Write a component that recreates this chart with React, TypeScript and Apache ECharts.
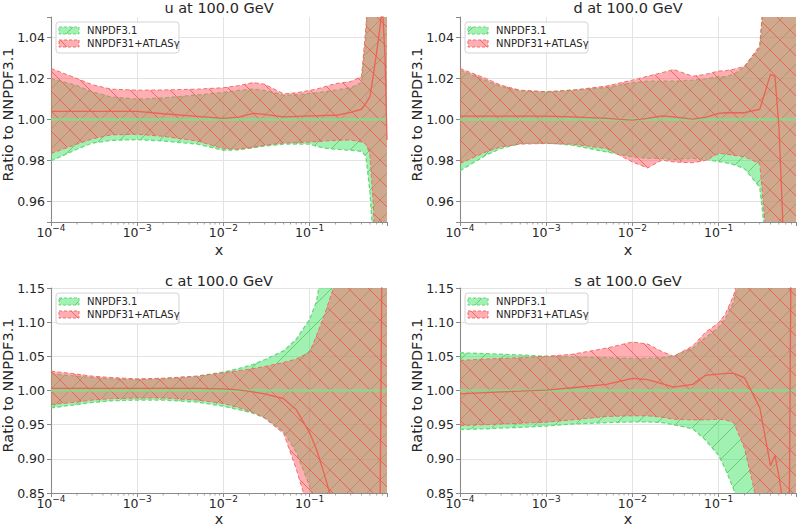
import React, { useEffect, useRef } from 'react';
import * as echarts from 'echarts';

// ---------- data ----------
const X = [1e-4, 2e-4, 3e-4, 5e-4, 1e-3, 2e-3, 5e-3, 1e-2, 1.5e-2, 2.2e-2, 3e-2, 5e-2, 0.07, 0.1, 0.12, 0.15, 0.2, 0.3, 0.4, 0.45, 0.5, 0.55, 0.6, 0.65, 0.7, 0.75, 0.79];

// u
const uGreenLo = [0.9798, 0.9855, 0.9885, 0.9898, 0.9902, 0.9895, 0.988, 0.985, 0.9852, 0.9862, 0.987, 0.988, 0.988, 0.988, 0.987, 0.986, 0.9855, 0.985, 0.9845, 0.982, 0.965, 0.94, 0.9, 0.9, 0.9, 0.9, 0.9];
const uGreenHi = [1.020, 1.0165, 1.0135, 1.011, 1.0099, 1.0105, 1.012, 1.0132, 1.0142, 1.0148, 1.0142, 1.0118, 1.012, 1.0127, 1.013, 1.0135, 1.0143, 1.0155, 1.018, 1.04, 1.08, 1.1, 1.1, 1.1, 1.1, 1.1, 1.1];
const uRedLo = [0.9834, 0.988, 0.9905, 0.9925, 0.9928, 0.9918, 0.9895, 0.9858, 0.9855, 0.9865, 0.9875, 0.9885, 0.9887, 0.989, 0.9892, 0.9895, 0.9898, 0.99, 0.989, 0.988, 0.983, 0.958, 0.9, 0.9, 0.9, 0.9, 0.9];
const uRedHi = [1.0249, 1.020, 1.017, 1.0148, 1.0143, 1.0144, 1.0148, 1.0155, 1.0165, 1.018, 1.0172, 1.0125, 1.013, 1.0142, 1.0148, 1.016, 1.0175, 1.0185, 1.021, 1.045, 1.08, 1.1, 1.1, 1.1, 1.1, 1.1, 1.1];
const uRedMid = [1.004, 1.004, 1.004, 1.004, 1.004, 1.0028, 1.0015, 1.0005, 1.0012, 1.003, 1.0025, 1.0013, 1.0015, 1.0018, 1.0018, 1.002, 1.002, 1.0035, 1.005, 1.008, 1.011, 1.022, 1.033, 1.044, 1.055, 1.03, 0.99];

// d
const dGreenLo = [0.975, 0.9826, 0.9859, 0.9883, 0.9886, 0.9875, 0.9842, 0.9818, 0.981, 0.981, 0.9805, 0.981, 0.9805, 0.9795, 0.979, 0.978, 0.976, 0.967, 0.92, 0.9, 0.9, 0.9, 0.9, 0.9, 0.9, 0.9, 0.9];
const dGreenHi = [1.024, 1.019, 1.016, 1.014, 1.0135, 1.0143, 1.0156, 1.0179, 1.0187, 1.0187, 1.0187, 1.0192, 1.0198, 1.0208, 1.021, 1.022, 1.0257, 1.035, 1.1, 1.1, 1.1, 1.1, 1.1, 1.1, 1.1, 1.1, 1.1];
const dRedLo = [0.9785, 0.9842, 0.9867, 0.988, 0.9883, 0.988, 0.9859, 0.9793, 0.9764, 0.9802, 0.9793, 0.9789, 0.98, 0.9834, 0.9832, 0.9825, 0.9818, 0.9785, 0.92, 0.9, 0.9, 0.9, 0.9, 0.9, 0.9, 0.9, 0.9];
const dRedHi = [1.0249, 1.020, 1.0167, 1.0143, 1.0135, 1.0143, 1.0163, 1.0192, 1.0211, 1.0228, 1.0244, 1.0211, 1.022, 1.0236, 1.0238, 1.0245, 1.026, 1.036, 1.1, 1.1, 1.1, 1.1, 1.1, 1.1, 1.1, 1.1, 1.1];
const dRedMid = [1.0016, 1.0016, 1.0016, 1.0016, 1.0016, 1.0013, 1.0005, 0.9997, 1.0005, 1.0018, 1.0013, 1.0002, 1.001, 1.003, 1.0033, 1.0033, 1.0033, 1.005, 1.022, 1.021, 0.997, 0.955, 0.9, 0.9, 0.9, 0.9, 0.9];

// c
const cGreenLo = [0.9746, 0.9795, 0.9825, 0.985, 0.986, 0.986, 0.983, 0.977, 0.972, 0.967, 0.96, 0.94, 0.91, 0.86, 0.83, 0.7, 0.7, 0.7, 0.7, 0.7, 0.7, 0.7, 0.7, 0.7, 0.7, 0.7, 0.7];
const cGreenHi = [1.0244, 1.021, 1.019, 1.017, 1.016, 1.017, 1.021, 1.027, 1.032, 1.038, 1.045, 1.058, 1.075, 1.104, 1.13, 1.2, 1.3, 1.3, 1.3, 1.3, 1.3, 1.3, 1.3, 1.3, 1.3, 1.3, 1.3];
const cRedLo = [0.9795, 0.983, 0.986, 0.988, 0.989, 0.989, 0.986, 0.981, 0.975, 0.968, 0.96, 0.937, 0.885, 0.82, 0.7, 0.7, 0.7, 0.7, 0.7, 0.7, 0.7, 0.7, 0.7, 0.7, 0.7, 0.7, 0.7];
const cRedHi = [1.0283, 1.024, 1.021, 1.019, 1.017, 1.018, 1.021, 1.026, 1.029, 1.032, 1.035, 1.041, 1.046, 1.056, 1.08, 1.112, 1.16, 1.3, 1.3, 1.3, 1.3, 1.3, 1.3, 1.3, 1.3, 1.3, 1.3];
const cRedMid = [1.003, 1.003, 1.003, 1.003, 1.003, 1.003, 1.003, 1.0025, 1.001, 0.998, 0.995, 0.988, 0.972, 0.938, 0.914, 0.875, 0.82, 0.75, 0.75, 0.75, 0.75, 0.75, 0.75, 0.75, 1.3, 1.3, 1.3];

// s
const sGreenLo = [0.943, 0.944, 0.945, 0.946, 0.948, 0.951, 0.953, 0.954, 0.954, 0.953, 0.95, 0.944, 0.928, 0.905, 0.885, 0.855, 0.8, 0.7, 0.7, 0.7, 0.7, 0.7, 0.7, 0.7, 0.7, 0.7, 0.7];
const sGreenHi = [1.055, 1.054, 1.053, 1.052, 1.05, 1.049, 1.048, 1.047, 1.047, 1.048, 1.05, 1.062, 1.077, 1.092, 1.105, 1.13, 1.2, 1.3, 1.3, 1.3, 1.3, 1.3, 1.3, 1.3, 1.3, 1.3, 1.3];
const sRedLo = [0.9488, 0.95, 0.951, 0.952, 0.9537, 0.957, 0.962, 0.963, 0.963, 0.961, 0.958, 0.957, 0.957, 0.958, 0.957, 0.953, 0.915, 0.82, 0.7, 0.7, 0.7, 0.7, 0.7, 0.7, 0.7, 0.7, 0.7];
const sRedHi = [1.044, 1.046, 1.047, 1.048, 1.05, 1.053, 1.062, 1.071, 1.068, 1.057, 1.05, 1.065, 1.085, 1.099, 1.112, 1.14, 1.2, 1.3, 1.3, 1.3, 1.3, 1.3, 1.3, 1.3, 1.3, 1.3, 1.3];
const sRedMid = [0.995, 0.997, 0.998, 0.999, 1.0005, 1.004, 1.009, 1.0176, 1.016, 1.01, 1.005, 1.009, 1.022, 1.024, 1.025, 1.025, 1.0185, 0.975, 0.89, 0.905, 0.875, 0.84, 0.7, 0.7, 1.3, 1.3, 1.3];

// reference (NNPDF3.1 / NNPDF3.1) central line
const REF_X = [1e-4, 0.79];
const REF_Y = [1.0, 1.0];

const PANEL_TITLES = ['u at 100.0 GeV', 'd at 100.0 GeV', 'c at 100.0 GeV', 's at 100.0 GeV'];
const LEGEND_LABELS = ['NNPDF3.1', 'NNPDF31+ATLASγ'];
const Y_NAME = 'Ratio to NNPDF3.1';
const X_NAME = 'x';
const X_TICK_EXP = [-4, -3, -2, -1];
const Y_TICKS_TOP = [0.96, 0.98, 1.0, 1.02, 1.04];
const Y_TICKS_BOTTOM = [0.85, 0.9, 0.95, 1.0, 1.05, 1.1, 1.15];
const MINOR_MULT = [2, 3, 4, 5, 6, 7, 8, 9];

// ---------- styling ----------
const FONT = "'DejaVu Sans', sans-serif";
const TEXT = '#262626';
const AXIS_COLOR = '#8a8a8a';
const GRID_COLOR = '#e3e3e3';
const GRID_W = 336;
const GRID_H = 205;
const X_MIN = 1e-4;
const X_MAX = 0.79;

const PANELS = [
  { left: 51, top: 17, yMin: 0.95, yMax: 1.05, ticks: Y_TICKS_TOP, gLo: uGreenLo, gHi: uGreenHi, rLo: uRedLo, rHi: uRedHi, rMid: uRedMid },
  { left: 460, top: 17, yMin: 0.95, yMax: 1.05, ticks: Y_TICKS_TOP, gLo: dGreenLo, gHi: dGreenHi, rLo: dRedLo, rHi: dRedHi, rMid: dRedMid },
  { left: 51, top: 288, yMin: 0.85, yMax: 1.15, ticks: Y_TICKS_BOTTOM, gLo: cGreenLo, gHi: cGreenHi, rLo: cRedLo, rHi: cRedHi, rMid: cRedMid },
  { left: 460, top: 288, yMin: 0.85, yMax: 1.15, ticks: Y_TICKS_BOTTOM, gLo: sGreenLo, gHi: sGreenHi, rLo: sRedLo, rHi: sRedHi, rMid: sRedMid },
];

function hatchURL(bg: string, line: string, forward: boolean, size = 20) {
  const c = document.createElement('canvas');
  c.width = size;
  c.height = size;
  const g = c.getContext('2d')!;
  g.fillStyle = bg;
  g.fillRect(0, 0, size, size);
  g.strokeStyle = line;
  g.lineWidth = 1;
  g.beginPath();
  for (const o of [-size, 0, size]) {
    if (forward) {
      g.moveTo(o, size);
      g.lineTo(o + size, 0);
    } else {
      g.moveTo(o, 0);
      g.lineTo(o + size, size);
    }
  }
  g.stroke();
  return c.toDataURL();
}

function buildOption() {
  const greenPat = { image: hatchURL('rgba(45,225,85,0.45)', 'rgba(70,175,70,0.6)', true), repeat: 'repeat', imageWidth: 20, imageHeight: 20 };
  const redPat = { image: hatchURL('rgba(255,95,105,0.5)', 'rgba(236,88,78,0.85)', false), repeat: 'repeat', imageWidth: 20, imageHeight: 20 };
  const greenEdge = 'rgba(105,215,125,1)';
  const redEdge = 'rgba(238,105,100,0.95)';

  const minorX: number[] = [];
  for (const e of X_TICK_EXP) for (const m of MINOR_MULT) {
    const v = m * Math.pow(10, e);
    if (v < X_MAX) minorX.push(v);
  }

  const grid: any[] = [];
  const xAxis: any[] = [];
  const yAxis: any[] = [];
  const series: any[] = [];
  const graphic: any[] = [];

  const band = (i: number, lo: number[], hi: number[], pat: any, edge: string, ew: number) => ({
    type: 'custom',
    xAxisIndex: i,
    yAxisIndex: i,
    clip: true,
    silent: true,
    z: 2,
    data: [[1e-3, 1]],
    renderItem: (_p: any, api: any) => {
      const up = X.map((x, k) => api.coord([x, hi[k]]));
      const dn = X.map((x, k) => api.coord([x, lo[k]]));
      return {
        type: 'group',
        children: [
          { type: 'polygon', shape: { points: up.concat(dn.slice().reverse()) }, style: { fill: pat, stroke: null } },
          { type: 'polyline', shape: { points: up }, style: { fill: null, stroke: edge, lineWidth: ew, lineDash: [4, 2.5] } },
          { type: 'polyline', shape: { points: dn }, style: { fill: null, stroke: edge, lineWidth: ew, lineDash: [4, 2.5] } },
        ],
      };
    },
  });

  PANELS.forEach((p, i) => {
    const bottomRow = i >= 2;
    grid.push({ left: p.left, top: p.top, width: GRID_W, height: GRID_H, outerBoundsMode: 'none' });
    xAxis.push({
      type: 'log',
      logBase: 10,
      gridIndex: i,
      min: X_MIN,
      max: X_MAX,
      axisLine: { show: true, onZero: false, lineStyle: { color: AXIS_COLOR, width: 1.1 } },
      axisTick: { show: true, length: 4, lineStyle: { color: AXIS_COLOR, width: 1 } },
      axisLabel: {
        margin: 1,
        formatter: (v: number) => {
          const e = Math.log10(v);
          const r = Math.round(e);
          if (Math.abs(e - r) > 1e-6 || X_TICK_EXP.indexOf(r) < 0) return '';
          return `{b|10}{s|−${Math.abs(r)}}`;
        },
        rich: {
          b: { fontSize: 12.5, fontFamily: FONT, color: TEXT, lineHeight: 16, verticalAlign: 'bottom' },
          s: { fontSize: 9, fontFamily: FONT, color: TEXT, lineHeight: 7, verticalAlign: 'top' },
        },
      },
      splitLine: { show: true, showMaxLine: false, lineStyle: { color: GRID_COLOR, width: 1 } },
    });
    const yax: any = {
      type: 'value',
      gridIndex: i,
      min: p.yMin,
      max: p.yMax,
      axisLine: { show: true, onZero: false, lineStyle: { color: AXIS_COLOR, width: 1.1 } },
      axisTick: { show: true, length: 4, lineStyle: { color: AXIS_COLOR, width: 1 } },
      axisLabel: {
        margin: 6,
        fontSize: 12.5,
        lineHeight: 12,
        fontFamily: FONT,
        color: TEXT,
        showMinLabel: true,
        showMaxLabel: true,
        formatter: (v: number) => (p.ticks.some((t) => Math.abs(t - v) < 1e-6) ? v.toFixed(2) : ''),
      },
      splitLine: { show: true, showMaxLine: bottomRow, lineStyle: { color: GRID_COLOR, width: 1 } },
    };
    if (bottomRow) yax.interval = 0.05;
    else yax.splitNumber = 5;
    yAxis.push(yax);

    series.push(band(i, p.gLo, p.gHi, greenPat, greenEdge, 1.3));
    series.push(band(i, p.rLo, p.rHi, redPat, redEdge, 1.0));
    series.push({
      type: 'line', xAxisIndex: i, yAxisIndex: i, silent: true, z: 3, clip: true,
      data: REF_X.map((x, k) => [x, REF_Y[k]]),
      showSymbol: false, symbol: 'none',
      lineStyle: { color: 'rgba(125,228,140,0.8)', width: 2.5 },
    });
    series.push({
      type: 'line', xAxisIndex: i, yAxisIndex: i, silent: true, z: 4, clip: true,
      data: X.map((x, k) => [x, p.rMid[k]]),
      showSymbol: false, symbol: 'none',
      lineStyle: { color: 'rgba(236,95,82,0.95)', width: 1.3 },
    });
    series.push({
      type: 'custom', xAxisIndex: i, yAxisIndex: i, silent: true, z: 5, clip: false,
      data: minorX.map((x) => [x, p.yMin]),
      renderItem: (_p: any, api: any) => {
        const c = api.coord([api.value(0), api.value(1)]);
        return { type: 'line', shape: { x1: c[0], y1: c[1], x2: c[0], y2: c[1] + 2.5 }, style: { stroke: AXIS_COLOR, lineWidth: 0.8 } };
      },
    });

    const cx = p.left + GRID_W / 2;
    // title
    graphic.push({
      type: 'text', x: cx, y: bottomRow ? 281 : 8, z: 100,
      style: { text: PANEL_TITLES[i], fontSize: 14.5, fontFamily: FONT, fill: TEXT, align: 'center', verticalAlign: 'middle' },
    });
    // y name
    graphic.push({
      type: 'text', x: p.left - 43, y: p.top + GRID_H / 2 - 5, rotation: Math.PI / 2, z: 100,
      style: { text: Y_NAME, fontSize: 14.5, fontFamily: FONT, fill: TEXT, align: 'center', verticalAlign: 'middle' },
    });
    // x name
    graphic.push({
      type: 'text', x: cx, y: bottomRow ? 519 : 250, z: 100,
      style: { text: X_NAME, fontSize: 14.5, lineHeight: 13, fontFamily: FONT, fill: TEXT, align: 'center', verticalAlign: 'middle' },
    });
    // legend
    const lx = p.left + 5;
    const ly = p.top + 5;
    graphic.push({
      type: 'rect', z: 100, shape: { x: lx, y: ly, width: 123, height: 31, r: 3 },
      style: { fill: 'rgba(255,255,255,0.85)', stroke: '#d4d4d4', lineWidth: 1 },
    });
    [[greenPat, greenEdge], [redPat, redEdge]].forEach(([pat, edge], k) => {
      graphic.push({
        type: 'rect', z: 101, shape: { x: lx + 3, y: ly + 5 + k * 13, width: 20, height: 7 },
        style: { fill: pat, stroke: edge, lineWidth: 1, lineDash: [3, 2] },
      });
      graphic.push({
        type: 'text', z: 101, x: lx + 31, y: ly + 8.5 + k * 13,
        style: { text: LEGEND_LABELS[k], fontSize: 10, fontFamily: FONT, fill: TEXT, align: 'left', verticalAlign: 'middle' },
      });
    });
  });

  return { animation: false, backgroundColor: '#ffffff', grid, xAxis, yAxis, series, graphic };
}

export default function App() {
  const ref = useRef<HTMLDivElement>(null);
  useEffect(() => {
    document.body.style.margin = '0';
    const chart = echarts.init(ref.current!, null, { renderer: 'svg' });
    chart.setOption(buildOption() as any);
    return () => chart.dispose();
  }, []);
  return <div ref={ref} style={{ width: 798, height: 526 }} />;
}
